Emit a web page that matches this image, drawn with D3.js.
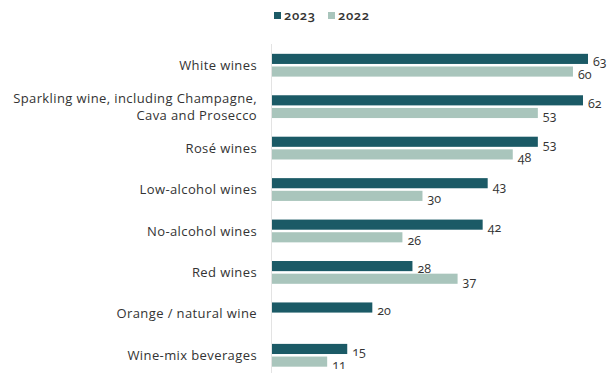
<!DOCTYPE html>
<html>
<head>
<meta charset="utf-8">
<script src="https://cdn.jsdelivr.net/npm/d3@7"></script>
<style>
  body { margin: 0; background: #fff; }
  svg { display: block; font-family: "Open Sans", sans-serif; }
  .num { font-variant-numeric: oldstyle-nums; }
</style>
</head>
<body>
<figure id="chart" style="margin:0"></figure>
<script>
const categories = [
  ['White wines'],
  ['Sparkling wine, including Champagne,', 'Cava and Prosecco'],
  ['Rosé wines'],
  ['Low-alcohol wines'],
  ['No-alcohol wines'],
  ['Red wines'],
  ['Orange / natural wine'],
  ['Wine-mix beverages']
];
const values2023 = [63, 62, 53, 43, 42, 28, 20, 15];
const values2022 = [60, 53, 48, 30, 26, 37, null, 11];
const seriesNames = ['2023', '2022'];
const colors = ['#1b5a66', '#a9c5bc'];

const width = 613, height = 373;
const left = 272;

const svg = d3.select('figure#chart')
  .append('svg')
  .attr('width', width)
  .attr('height', height);

const x = d3.scaleLinear()
  .domain([0, 63])
  .range([left, 588]);

const y = d3.scaleBand()
  .domain(d3.range(categories.length))
  .range([44.5, 376])
  .paddingInner(0.45)
  .paddingOuter(0.225);

const sub = d3.scaleBand()
  .domain(seriesNames)
  .range([0, y.bandwidth()])
  .paddingInner(0.2);

// axis line
svg.append('line')
  .attr('x1', left - 0.5).attr('x2', left - 0.5)
  .attr('y1', 44).attr('y2', height)
  .attr('stroke', '#e3e3e3')
  .attr('stroke-width', 1);

const rows = categories.map((c, i) => ({ i, label: c, vals: [values2023[i], values2022[i]] }));

const g = svg.selectAll('g.row')
  .data(rows)
  .enter()
  .append('g')
  .attr('class', 'row');

seriesNames.forEach((s, k) => {
  g.filter(d => d.vals[k] != null)
    .append('rect')
    .attr('x', x(0))
    .attr('y', d => y(d.i) + sub(s))
    .attr('width', d => x(d.vals[k]) - x(0))
    .attr('height', sub.bandwidth())
    .attr('fill', colors[k]);

  g.filter(d => d.vals[k] != null)
    .append('text')
    .attr('class', 'num')
    .attr('x', d => x(d.vals[k]) + 5)
    .attr('y', d => y(d.i) + sub(s) + sub.bandwidth() / 2 + 3)
    .attr('dy', '0.35em')
    .attr('font-size', 12.5)
    .attr('fill', '#333')
    .text(d => d.vals[k]);
});

// category labels
g.append('text')
  .attr('text-anchor', 'end')
  .attr('font-size', 13)
  .attr('letter-spacing', 0.4)
  .attr('fill', '#333')
  .attr('y', d => y(d.i) + y.bandwidth() / 2 - (d.label.length - 1) * 8.5)
  .selectAll('tspan')
  .data(d => d.label)
  .enter()
  .append('tspan')
  .attr('x', 257)
  .attr('dy', (d, j) => j === 0 ? '0.35em' : 17.5)
  .text(d => d);

// legend
const legend = svg.append('g');
const lx = [274, 328];
seriesNames.forEach((s, k) => {
  legend.append('rect')
    .attr('x', lx[k]).attr('y', 12)
    .attr('width', 7).attr('height', 7)
    .attr('fill', colors[k]);
  legend.append('text')
    .attr('class', 'num')
    .attr('x', lx[k] + 10).attr('y', 15.5)
    .attr('dy', '0.35em')
    .attr('font-size', 13)
    .attr('font-weight', 600)
    .attr('letter-spacing', 0.6)
    .attr('fill', '#333')
    .text(s);
});
</script>
</body>
</html>
